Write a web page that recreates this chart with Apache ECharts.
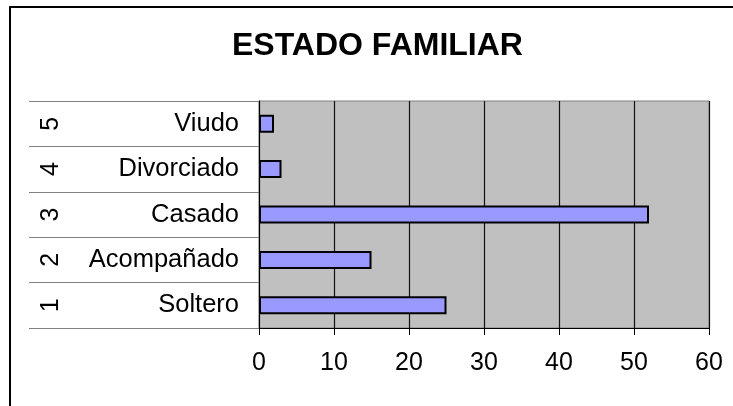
<!DOCTYPE html>
<html>
<head>
<meta charset="utf-8">
<script src="https://cdn.jsdelivr.net/npm/echarts@6/dist/echarts.min.js"></script>
<style>html,body{margin:0;padding:0;background:#fff}#c{width:733px;height:406px}</style>
</head>
<body>
<div id="c"></div>
<script>
const categories = ['Soltero', 'Acompañado', 'Casado', 'Divorciado', 'Viudo'];
const codes = ['1', '2', '3', '4', '5'];
const values = [25, 15, 52, 3, 2];
const xTicks = { min: 0, max: 60, interval: 10 };
const titleText = 'ESTADO FAMILIAR';

const chart = echarts.init(document.getElementById('c'), null, { renderer: 'canvas' });
const font = 'Liberation Sans';
chart.setOption({
  backgroundColor: '#ffffff',
  animation: false,
  textStyle: { fontFamily: font },
  title: {
    text: titleText,
    left: 227, top: 25,
    textStyle: { fontSize: 32, fontWeight: 'bold', color: '#000', fontFamily: font }
  },
  graphic: [{
    type: 'rect', silent: true, z: 100,
    shape: { x: 10, y: 7, width: 800, height: 500 },
    style: { fill: 'none', stroke: '#000', lineWidth: 2 }
  }],
  grid: {
    left: 259, right: 24, top: 101, bottom: 78,
    show: true, backgroundColor: '#c0c0c0', borderColor: '#808080', borderWidth: 1
  },
  xAxis: {
    type: 'value', min: xTicks.min, max: xTicks.max, interval: xTicks.interval,
    axisLine: { show: true, lineStyle: { color: '#000', width: 1 } },
    axisTick: { show: true, length: 7, lineStyle: { color: '#000' } },
    axisLabel: { fontSize: 25, color: '#000', margin: 23, fontFamily: font },
    splitLine: { show: true, lineStyle: { color: '#111', width: 1.2 } }
  },
  yAxis: [{
    type: 'category', data: categories, position: 'left',
    axisLine: { show: true, lineStyle: { color: '#000', width: 1 } },
    axisTick: { show: true, length: 230, lineStyle: { color: '#808080', width: 1 } },
    axisLabel: { fontSize: 25.5, color: '#000', margin: 20, fontFamily: font },
    splitLine: { show: false }
  }, {
    type: 'category', data: codes, position: 'left', offset: 195,
    axisLine: { show: false }, axisTick: { show: false },
    axisLabel: { fontSize: 25, color: '#000', margin: 0, rotate: 90, fontFamily: font },
    splitLine: { show: false }
  }],
  series: [{
    type: 'bar', data: values, yAxisIndex: 0, barWidth: 18,
    itemStyle: { color: '#9999ff', borderColor: '#000', borderWidth: 2 }
  }]
});
</script>
</body>
</html>
